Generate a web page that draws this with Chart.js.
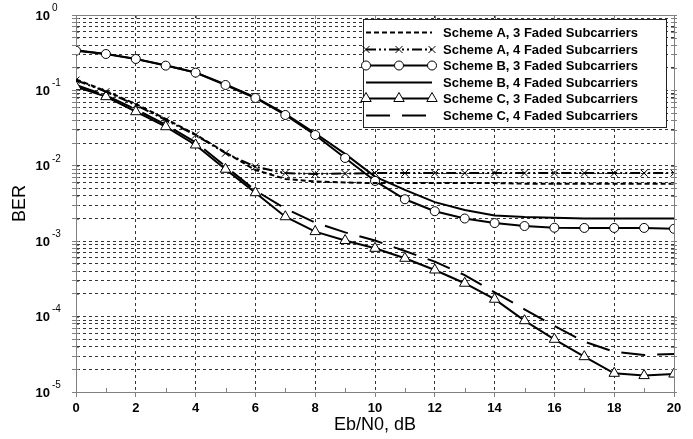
<!DOCTYPE html>
<html>
<head>
<meta charset="utf-8">
<script src="https://cdn.jsdelivr.net/npm/chart.js@4.4.1/dist/chart.umd.min.js"></script>
<style>
  html, body { margin: 0; padding: 0; background: #fff; }
</style>
</head>
<body>
<canvas id="c" width="693" height="439"></canvas>
<script>
// Eb/N0 in dB
const ebn0 = [0,1,2,3,4,5,6,7,8,9,10,11,12,13,14,15,16,17,18,19,20];

// BER per scheme
const schemeA3 = [0.140, 0.098, 0.066, 0.042, 0.026, 0.0150, 0.0088, 0.0067, 0.0062, 0.0060, 0.0059,
                  0.0059, 0.0059, 0.0059, 0.0059, 0.0058, 0.0058, 0.0058, 0.0058, 0.0058, 0.0058];
const schemeA4 = [0.137, 0.096, 0.064, 0.0405, 0.0256, 0.0147, 0.0097, 0.0080, 0.0078, 0.0079, 0.0080,
                  0.0080, 0.0080, 0.0080, 0.0080, 0.0080, 0.0080, 0.0080, 0.0080, 0.0080, 0.0080];
const schemeB3 = [0.336, 0.304, 0.261, 0.213, 0.172, 0.118, 0.0793, 0.0472, 0.0256, 0.0127, 0.0063,
                  0.0036, 0.0025, 0.0020, 0.00174, 0.00159, 0.00151, 0.0015, 0.0015, 0.0015, 0.00146];
const schemeB4 = [0.340, 0.305, 0.262, 0.215, 0.173, 0.120, 0.081, 0.049, 0.027, 0.0144, 0.0072,
                  0.0048, 0.0033, 0.0026, 0.0022, 0.0021, 0.00205, 0.0020, 0.0020, 0.0020, 0.0020];
const schemeC3 = [0.112, 0.0826, 0.0522, 0.033, 0.0189, 0.0090, 0.0044, 0.00211, 0.00134, 0.00102, 0.000805,
                  0.000593, 0.000415, 0.000277, 0.000170, 0.0000883, 0.0000500, 0.0000294, 0.0000177, 0.0000165, 0.0000173];
const schemeC4 = [0.118, 0.086, 0.056, 0.035, 0.0205, 0.0098, 0.0047, 0.0027, 0.00177, 0.00131, 0.00102,
                  0.00074, 0.000535, 0.000356, 0.00021, 0.000125, 0.000075, 0.0000465, 0.0000342, 0.000031, 0.0000319];

const seriesLabels = [
  'Scheme A, 3 Faded Subcarriers',
  'Scheme A, 4 Faded Subcarriers',
  'Scheme B, 3 Faded Subcarriers',
  'Scheme B, 4 Faded Subcarriers',
  'Scheme C, 3 Faded Subcarriers',
  'Scheme C, 4 Faded Subcarriers'
];

// axis ticks
const yExponents = [0, -1, -2, -3, -4, -5];
const yMinorSteps = [2, 3, 4, 5, 6, 7, 8, 9];
const xLabelStep = 2;

const FONT = '"Liberation Sans", Arial, sans-serif';
const gridColor = '#333';
const axisColor = '#808080';

const yGridValues = [];
yExponents.forEach(e => {
  yGridValues.push(Math.pow(10, e));
  if (e > -5) yMinorSteps.forEach(m => yGridValues.push(m * Math.pow(10, e - 1)));
});

const toPts = arr => ebn0.map((x, i) => ({ x: x, y: arr[i] }));

function makeSet(label, arr, style) {
  return Object.assign({
    label: label,
    data: toPts(arr),
    borderColor: '#000',
    borderWidth: 2,
    pointRadius: 0,
    pointBorderColor: '#000',
    pointBackgroundColor: '#fff',
    pointBorderWidth: 1,
    tension: 0,
    fill: false,
    clip: 0
  }, style);
}

const datasets = [
  makeSet(seriesLabels[0], schemeA3, { borderDash: [5, 3] }),
  makeSet(seriesLabels[1], schemeA4, { borderDash: [10, 3, 2, 3, 2, 3], pointStyle: 'crossRot', pointRadius: 5 }),
  makeSet(seriesLabels[2], schemeB3, { pointStyle: 'circle', pointRadius: 4.5 }),
  makeSet(seriesLabels[3], schemeB4, {}),
  makeSet(seriesLabels[4], schemeC3, { pointStyle: 'triangle', pointRadius: 6 }),
  makeSet(seriesLabels[5], schemeC4, { borderDash: [24, 12] })
];

function drawMarker(ctx, ds, x, y) {
  if (!ds.pointRadius) return;
  ctx.save();
  ctx.setLineDash([]);
  ctx.lineWidth = ds.pointBorderWidth;
  ctx.strokeStyle = ds.pointBorderColor;
  ctx.fillStyle = ds.pointBackgroundColor;
  Chart.helpers.drawPoint(ctx, { pointStyle: ds.pointStyle, radius: ds.pointRadius, borderWidth: ds.pointBorderWidth, rotation: 0 }, x, y);
  ctx.restore();
}

// legend box in the upper right corner
const legendBox = {
  id: 'legendBox',
  afterDatasetsDraw(chart) {
    const { ctx, chartArea } = chart;
    const w = 303, h = 108;
    const left = chartArea.right - 8 - w, top = chartArea.top + 4;
    ctx.save();
    ctx.fillStyle = '#fff';
    ctx.fillRect(left, top, w, h);
    ctx.strokeStyle = '#222';
    ctx.lineWidth = 1;
    ctx.strokeRect(left + 0.5, top + 0.5, w, h);
    chart.data.datasets.forEach((ds, i) => {
      const y = Math.round(top + 13 + i * 16.6) + 0.5;
      const x1 = left + 3, x2 = left + 69;
      ctx.save();
      ctx.strokeStyle = ds.borderColor;
      ctx.lineWidth = ds.borderWidth;
      ctx.setLineDash(ds.borderDash || []);
      ctx.beginPath();
      ctx.moveTo(x1, y);
      ctx.lineTo(x2, y);
      ctx.stroke();
      ctx.restore();
      [x1, (x1 + x2) / 2, x2].forEach(px => drawMarker(ctx, ds, px, y));
      ctx.fillStyle = '#000';
      ctx.font = 'bold 13px ' + FONT;
      ctx.textAlign = 'left';
      ctx.textBaseline = 'middle';
      ctx.fillText(ds.label, left + 80, y + 1);
    });
    ctx.restore();
  }
};

// frame, small inner ticks and the 10^n labels
const frameAndLabels = {
  id: 'frameAndLabels',
  afterDraw(chart) {
    const { ctx, chartArea: a, scales: { x, y } } = chart;
    ctx.save();
    ctx.strokeStyle = axisColor;
    ctx.lineWidth = 1;
    ctx.beginPath();
    ctx.moveTo(Math.round(a.left) + 0.5, Math.round(a.top) + 0.5);
    ctx.lineTo(Math.round(a.right) + 0.5, Math.round(a.top) + 0.5);
    ctx.lineTo(Math.round(a.right) + 0.5, Math.round(a.bottom) + 0.5);
    ctx.stroke();

    ctx.beginPath();
    ebn0.forEach(v => {
      const px = Math.round(x.getPixelForValue(v)) + 0.5;
      if (v % xLabelStep === 0) {
        ctx.moveTo(px, a.top); ctx.lineTo(px, a.top + 4);
      } else {
        ctx.moveTo(px, a.bottom); ctx.lineTo(px, a.bottom - 4);
      }
    });
    yGridValues.forEach(v => {
      const py = Math.round(y.getPixelForValue(v)) + 0.5;
      ctx.moveTo(a.left, py); ctx.lineTo(a.left + 3, py);
      ctx.moveTo(a.right - 3, py); ctx.lineTo(a.right + 3, py);
    });
    ctx.stroke();

    ctx.fillStyle = '#000';
    yExponents.forEach(e => {
      const py = y.getPixelForValue(Math.pow(10, e));
      ctx.font = 'bold 13px ' + FONT;
      ctx.textAlign = 'right';
      ctx.textBaseline = 'middle';
      ctx.fillText('10', 50, py + 1);
      ctx.font = '10px ' + FONT;
      ctx.textAlign = 'left';
      ctx.fillText(String(e), 52, py - 7);
    });
    ctx.restore();
  }
};

const chart = new Chart(document.getElementById('c').getContext('2d'), {
  type: 'line',
  data: { datasets: datasets },
  options: {
    responsive: false,
    animation: false,
    layout: { padding: { top: 15, right: 19, left: 0, bottom: 0 } },
    plugins: { legend: { display: false }, tooltip: { enabled: false } },
    scales: {
      x: {
        type: 'linear',
        min: 0,
        max: 20,
        afterBuildTicks: axis => { axis.ticks = ebn0.map(v => ({ value: v })); },
        afterFit: axis => { axis.height = 47; },
        grid: {
          color: c => (c.tick && c.tick.value % xLabelStep === 0) ? gridColor : 'rgba(0,0,0,0)',
          tickColor: c => (c.tick && c.tick.value % xLabelStep === 0) ? axisColor : 'rgba(0,0,0,0)',
          lineWidth: 1,
          tickLength: 5
        },
        border: { display: true, color: axisColor, width: 1, dash: [3, 3] },
        ticks: {
          autoSkip: false,
          maxRotation: 0,
          padding: 4,
          color: '#000',
          font: { family: FONT, size: 13, weight: 'bold' },
          callback: v => (v % xLabelStep === 0 ? String(v) : '')
        },
        title: {
          display: true,
          text: 'Eb/N0, dB',
          color: '#000',
          font: { family: FONT, size: 18 },
          padding: { top: 0, bottom: 3 }
        }
      },
      y: {
        type: 'logarithmic',
        min: 1e-5,
        max: 1,
        afterBuildTicks: axis => { axis.ticks = yGridValues.map(v => ({ value: v })); },
        afterFit: axis => { axis.width = 76; },
        grid: { color: gridColor, tickColor: axisColor, lineWidth: 1, tickLength: 4 },
        border: { display: true, color: axisColor, width: 1, dash: [3, 3] },
        ticks: { display: false },
        title: {
          display: true,
          text: 'BER',
          color: '#000',
          font: { family: FONT, size: 18 },
          padding: { top: 9, bottom: 0 }
        }
      }
    }
  },
  plugins: [legendBox, frameAndLabels]
});
</script>
</body>
</html>
